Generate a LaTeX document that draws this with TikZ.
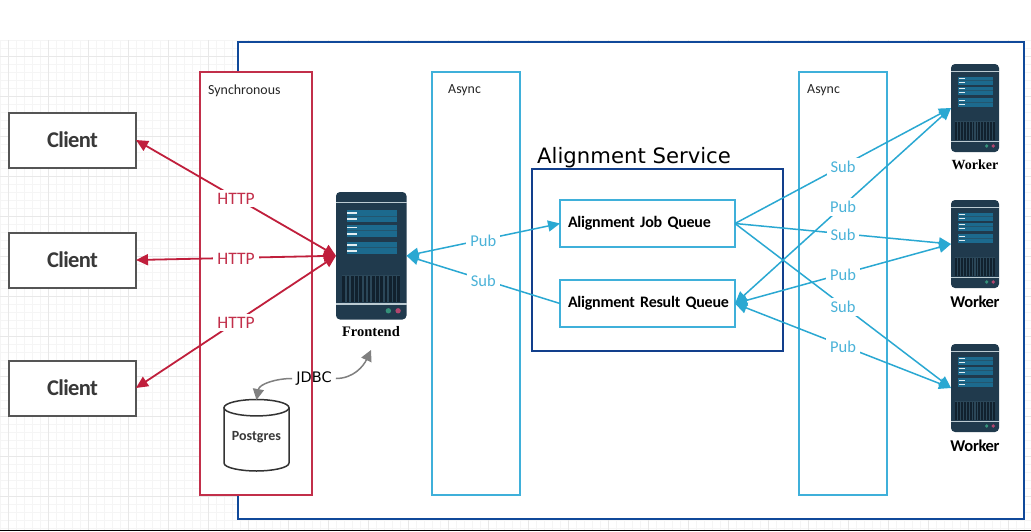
\documentclass[tikz,border=0pt]{standalone}
\usepackage{fontspec}
\setmainfont{Carlito}
\newfontfamily\tightA[LetterSpace=-3]{Carlito}
\newfontfamily\tightB[LetterSpace=-1.5]{Carlito}
\newfontfamily\tightC[LetterSpace=-2]{Carlito}
\newfontfamily\djv{DejaVu Sans}
\newfontfamily\srf{Liberation Serif}
\usetikzlibrary{arrows.meta}
\definecolor{redline}{HTML}{C01F3C}
\definecolor{redbox}{HTML}{C22F4A}
\definecolor{cyanline}{HTML}{2AA8D2}
\definecolor{cyanbox}{HTML}{3FB0DA}
\definecolor{cyantext}{HTML}{4AB2D8}
\definecolor{outerblue}{HTML}{10499A}
\definecolor{innerblue}{HTML}{123F8C}
\definecolor{clientline}{HTML}{555555}
\definecolor{srvbody}{HTML}{203A4D}
\definecolor{srvpanel}{HTML}{1C6A8E}
\definecolor{srvsep}{HTML}{23566F}
\definecolor{srvlight}{HTML}{BCCBD2}
\definecolor{srvdash}{HTML}{E2EDF1}
\definecolor{srvdark}{HTML}{11212E}
\definecolor{srvgap}{HTML}{2B4759}
\definecolor{dotgreen}{HTML}{35927A}
\definecolor{dotpink}{HTML}{B2466E}
\definecolor{gridmajor}{HTML}{E8E8E8}
\definecolor{gridminor}{HTML}{F5F5F5}
\tikzset{
  x=1pt,y=-1pt,
  client/.style={draw=clientline,line width=2pt,fill=white,minimum width=127,minimum height=55,inner sep=0,outer sep=0,font=\tightA\fontsize{22.5}{26}\selectfont\bfseries,text=black!78},
  zonebox/.style={line width=2pt,fill=white,anchor=north west,inner sep=0,outer sep=0},
  queue/.style={draw=cyanbox,line width=1.6pt,fill=white,minimum height=47,text width=159,inner xsep=8,inner ysep=0,outer sep=0,align=left,font=\tightB\fontsize{16}{19}\selectfont\bfseries,text=black},
  zonetitle/.style={anchor=west,inner sep=0,font=\fontsize{13.9}{17}\selectfont,text=black!85},
  httpline/.style={redline,line width=1.8pt,{Triangle[length=12pt,width=11pt]}-{Triangle[length=12pt,width=11pt]}},
  httplabel/.style={fill=white,inner xsep=4,inner ysep=3,yshift=-1pt,text=redbox,font=\fontsize{17.5}{20}\selectfont},
  mqboth/.style={cyanline,line width=1.5pt,{Triangle[length=12pt,width=11pt]}-{Triangle[length=12pt,width=11pt]}},
  mqend/.style={cyanline,line width=1.5pt,-{Triangle[length=12pt,width=11pt]}},
  mqlabel/.style={fill=white,inner xsep=4,inner ysep=3,yshift=-1pt,text=cyantext,font=\fontsize{16.5}{19}\selectfont},
  srvname/.style={inner sep=0,font=\fontsize{14.5}{17}\selectfont\bfseries\srf,text=black},
  wkname/.style={inner sep=0,font=\tightC\fontsize{16.5}{19}\selectfont\bfseries,text=black},
  jdbcline/.style={black!50,line width=1.5pt,-{Triangle[length=11pt,width=11pt]}},
}
\newcommand{\serverpic}[5]{%
  \node[inner sep=0,outer sep=0,minimum width=#4,minimum height=#5,anchor=north west] (#1) at (#2,#3) {};
  \begin{scope}[shift={(#2,#3)},xscale=#4/210,yscale=#5/381]
    \fill[srvbody,rounded corners=4pt] (0,0) rectangle (210,381);
    \fill[srvlight] (0,29) rectangle (210,33);
    \fill[srvlight] (0,333) rectangle (210,337);
    \foreach \ra/\rb in {55/89,98/133,149/184}{
      \fill[srvpanel] (32,\ra) rectangle (182,\rb);
      \fill[srvsep] (32,{(\ra+\rb)/2-1}) rectangle (182,{(\ra+\rb)/2+1});
      \fill[srvdash] (34,{\ra+6}) rectangle (62,{\ra+11});
      \fill[srvdash] (34,{\rb-11}) rectangle (62,{\rb-6});
    }
    \fill[srvgap] (17,248) rectangle (192,328);
    \foreach \bx in {0,...,13}{
      \fill[srvdark] ({19+\bx*12.6},250) rectangle ({27+\bx*12.6},328);
    }
    \fill[dotgreen] (156,355) circle[radius=8];
    \fill[dotpink] (185,355) circle[radius=8];
  \end{scope}
}
\begin{document}
\begin{tikzpicture}
  \useasboundingbox (0,0) rectangle (1031,531);
  \fill[white] (0,0) rectangle (1031,531);
  % canvas grid
  \foreach \gx in {0,8,...,1030} \draw[gridminor,line width=.8pt] (\gx,40) -- (\gx,531);
  \foreach \gy in {40,48,...,530} \draw[gridminor,line width=.8pt] (0,\gy) -- (1031,\gy);
  \foreach \gx in {8,48,...,1030} \draw[gridmajor,line width=1pt] (\gx,40) -- (\gx,531);
  \foreach \gy in {56,96,...,530} \draw[gridmajor,line width=1pt] (0,\gy) -- (1031,\gy);
  \fill[black] (0,529.7) rectangle (1031,531);
  % zones
  \node[zonebox,draw=outerblue,minimum width=786,minimum height=477] (outer) at (237.5,42) {};
  \node[zonebox,draw=redbox,minimum width=112,minimum height=423] (sync) at (200,72) {};
  \node[zonebox,draw=cyanbox,minimum width=88,minimum height=423] (asyncA) at (432,72) {};
  \node[zonebox,draw=cyanbox,minimum width=88,minimum height=423] (asyncB) at (799,72) {};
  \node[zonebox,draw=innerblue,minimum width=251,minimum height=182] (align) at (532,169) {};
  \node[zonetitle] (tsync) at (208,90.5) {Synchronous};
  \node[zonetitle] (tasyncA) at (448,90.5) {Async};
  \node[zonetitle] (tasyncB) at (807,90.5) {Async};
  \node[anchor=west,inner sep=0,font=\fontsize{21.2}{25}\selectfont\djv] (talign) at (537,158) {Alignment Service};
  % clients
  \node[client] (c1) at (72.5,140) {\raisebox{-1pt}{Client}};
  \node[client] (c2) at (72.5,260) {\raisebox{-1pt}{Client}};
  \node[client] (c3) at (72.5,388) {\raisebox{-1pt}{Client}};
  % queues
  \node[queue] (job) at (647.5,223.5) {\makebox[159pt][l]{Alignment Job Queue}};
  \node[queue] (res) at (647.5,303.5) {\makebox[159pt][l]{Alignment Result Queue}};
  % servers
  \serverpic{front}{336}{192}{70.5}{127.5}
  \serverpic{w1}{951}{64}{48}{88}
  \serverpic{w2}{951}{200}{48}{88}
  \serverpic{w3}{951}{344}{48}{88}
  \node[srvname] (flabel) at (371,331.7) {Frontend};
  \node[srvname,font=\fontsize{14}{17}\selectfont\bfseries\srf] (l1) at (975,164.7) {Worker};
  \node[wkname] (l2) at (975,301.7) {Worker};
  \node[wkname] (l3) at (975,445.7) {Worker};
  % database
  \node[minimum width=65,minimum height=74,inner sep=0,outer sep=0,font=\fontsize{14}{17}\selectfont\bfseries,text=black!78] (pg) at (256.5,437) {Postgres};
  \begin{scope}[shift={(pg.center)}]
    \draw[black!80,line width=1.5pt] (-32.5,-29.3) -- (-32.5,26) .. controls (-32.5,31) and (-15,34) .. (0,34) .. controls (15,34) and (32.5,31) .. (32.5,26) -- (32.5,-29.3);
    \draw[black!80,line width=1.5pt] (0,-29.3) ellipse[x radius=32.5,y radius=8.2];
  \end{scope}
  % HTTP
  \draw[httpline] (c1.east) -- node[httplabel]{HTTP} (front.west);
  \draw[httpline] (c2.east) -- node[httplabel]{HTTP} (front.west);
  \draw[httpline] (c3.east) -- node[httplabel]{HTTP} (front.west);
  % front <-> queues
  \draw[mqboth] (front.east) -- node[mqlabel]{Pub} (job.west);
  \draw[mqend] (res.west) -- node[mqlabel]{Sub} (front.east);
  % queues <-> workers
  \draw[mqend] (job.east) -- node[mqlabel]{Sub} (w1.west);
  \draw[mqend] (job.east) -- node[mqlabel]{Sub} (w2.west);
  \draw[mqend] (job.east) -- node[mqlabel]{Sub} (w3.west);
  \draw[mqboth] (res.east) -- node[mqlabel]{Pub} (w1.west);
  \draw[mqboth] (res.east) -- node[mqlabel]{Pub} (w2.west);
  \draw[mqboth] (res.east) -- node[mqlabel]{Pub} (w3.west);
  % JDBC
  \node[inner xsep=4,inner ysep=2,font=\fontsize{14.5}{17}\selectfont\djv] (jd) at (314,378.5) {JDBC};
  \draw[jdbcline] (jd.west) to[out=180,in=80] (pg.north);
  \coordinate (fsouth) at ([yshift=-13pt]flabel.south);
  \draw[jdbcline] (jd.east) to[out=0,in=-115] (fsouth);
\end{tikzpicture}
\end{document}
